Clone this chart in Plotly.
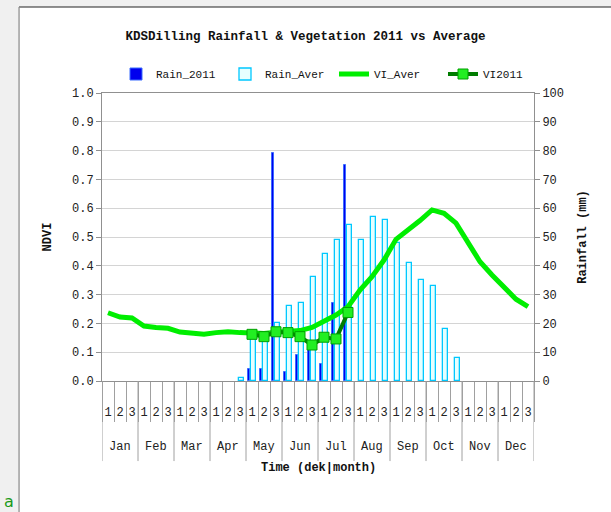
import plotly.graph_objects as go

months = ["Jan", "Feb", "Mar", "Apr", "May", "Jun", "Jul", "Aug", "Sep", "Oct", "Nov", "Dec"]
dekads = ["1", "2", "3"] * 12
dek_index = list(range(36))

rain_2011 = [0, 0, 0, 0, 0, 0, 0, 0, 0, 0, 0, 0,
             4, 4, 79, 3, 9, 11, 6, 27, 75,
             0, 0, 0, 0, 0, 0, 0, 0, 0, 0, 0, 0, 0, 0, 0]
rain_aver = [0, 0, 0, 0, 0, 0, 0, 0, 0, 0, 0, 1,
             15, 14, 20, 26, 27, 36, 44, 49, 54,
             49, 57, 56, 48, 41, 35, 33, 18, 8,
             0, 0, 0, 0, 0, 0]
vi_aver = [0.237, 0.222, 0.219, 0.191, 0.186, 0.183, 0.170, 0.164, 0.162,
           0.168, 0.171, 0.168, 0.165, 0.165, 0.169, 0.171, 0.175, 0.186,
           0.206, 0.229, 0.258, 0.316, 0.362, 0.420, 0.492, 0.522, 0.557,
           0.594, 0.582, 0.548, 0.484, 0.414, 0.368, 0.327, 0.284, 0.258]
vi_2011_x = [12, 13, 14, 15, 16, 17, 18, 19, 20]
vi_2011 = [0.162, 0.154, 0.171, 0.168, 0.154, 0.125, 0.152, 0.146, 0.238]

FONT = "Liberation Mono"


def hide_zero(vals):
    # zero-rain dekads draw no bar outline
    return [v if v > 0 else None for v in vals]


fig = go.Figure()
fig.add_trace(go.Bar(x=dek_index, y=hide_zero(rain_2011), name="Rain_2011", yaxis="y",
                     offset=-0.37, width=0.24,
                     marker=dict(color="#0000ee", line=dict(color="#3a6cff", width=1))))
fig.add_trace(go.Bar(x=dek_index, y=hide_zero(rain_aver), name="Rain_Aver", yaxis="y",
                     offset=-0.06, width=0.36,
                     marker=dict(color="#e6ffff", line=dict(color="#00c8ff", width=1.3))))
fig.add_trace(go.Scatter(x=dek_index, y=vi_aver, name="VI_Aver", yaxis="y2", mode="lines",
                         line=dict(color="#00ee00", width=5)))
fig.add_trace(go.Scatter(x=vi_2011_x, y=vi_2011, name="VI2011", yaxis="y2", mode="lines+markers",
                         line=dict(color="#007c00", width=4),
                         marker=dict(symbol="square", size=10, color="#22ee22",
                                     line=dict(color="#00a000", width=1))))

shapes = [
    dict(type="rect", xref="paper", yref="paper", x0=-0.192, x1=1.2, y0=-0.5, y1=1.2986,
         fillcolor="white", line=dict(width=0), layer="below"),
    dict(type="line", xref="paper", yref="paper", x0=-0.192, x1=1.2, y0=1.2986, y1=1.2986,
         line=dict(color="#222222", width=1.2)),
    dict(type="line", xref="paper", yref="paper", x0=-0.192, x1=-0.192, y0=-0.5, y1=1.2986,
         line=dict(color="#888888", width=1.2)),
]
for i in range(13):
    shapes.append(dict(type="line", xref="x", yref="paper", x0=3 * i - 0.5, x1=3 * i - 0.5,
                       y0=0, y1=-0.278, line=dict(color="#a0a0a0", width=1)))

annotations = []
for i, m in enumerate(months):
    annotations.append(dict(x=3 * i + 1, y=-0.229, xref="x", yref="paper", text=m,
                            showarrow=False, font=dict(family=FONT, size=12, color="#222"),
                            yanchor="middle"))
annotations.append(dict(x=0.5, y=-0.302, xref="paper", yref="paper", text="<b>Time (dek|month)</b>",
                        showarrow=False, font=dict(family=FONT, size=12, color="#111"),
                        yanchor="middle"))
annotations.append(dict(x=-0.232, y=-0.42, xref="paper", yref="paper", text="a",
                        showarrow=False, font=dict(family="DejaVu Sans", size=16, color="#1a9a1a"),
                        yanchor="middle"))

fig.update_layout(
    width=611, height=512,
    margin=dict(l=102, r=77, t=93, b=131, autoexpand=False),
    paper_bgcolor="#f0f0f0", plot_bgcolor="white",
    barmode="overlay", bargap=0,
    title=dict(text="<b>KDSDilling Rainfall & Vegetation 2011 vs Average</b>",
               x=0.5, xref="container", y=1 - 36 / 512, yanchor="middle",
               font=dict(family=FONT, size=12.5, color="#111")),
    legend=dict(orientation="h", xref="container", x=116 / 611, xanchor="left",
                yref="container", y=1 - 74 / 512, yanchor="middle",
                font=dict(family=FONT, size=11, color="#111"), bgcolor="rgba(0,0,0,0)",
                itemwidth=30, tracegroupgap=0, entrywidth=64),
    font=dict(family=FONT, size=12, color="#222"),
    xaxis=dict(range=[-0.5, 35.5], tickmode="array", tickvals=dek_index, ticktext=dekads,
               ticks="", showgrid=False, showline=True, linecolor="#909090", mirror=True,
               ticklabelstandoff=20, tickfont=dict(family=FONT, size=12, color="#222"),
               minor=dict(tickmode="linear", tick0=-0.5, dtick=1, ticks="outside", ticklen=40,
                          tickcolor="#a0a0a0", showgrid=False),
               zeroline=False, automargin=False),
    yaxis=dict(range=[0, 100], dtick=10, side="right", showgrid=True, gridcolor="#d4d4d4",
               showline=True, linecolor="#909090", ticks="outside", ticklen=5, tickcolor="#909090",
               title=dict(text="<b>Rainfall (mm)</b>", font=dict(family=FONT, size=12, color="#111"),
                          standoff=14),
               zeroline=False, automargin=False),
    yaxis2=dict(range=[0, 1], dtick=0.1, tickformat=".1f", side="left", overlaying="y",
                showgrid=False, showline=True, linecolor="#909090", ticks="outside", ticklen=5,
                tickcolor="#909090",
                title=dict(text="<b>NDVI</b>", font=dict(family=FONT, size=12, color="#111"),
                           standoff=17),
                zeroline=False, automargin=False),
    shapes=shapes, annotations=annotations,
)

fig.write_html("out.html", config={"displayModeBar": False},
               post_script="document.body.style.margin='0';document.body.style.background='#f0f0f0';")
